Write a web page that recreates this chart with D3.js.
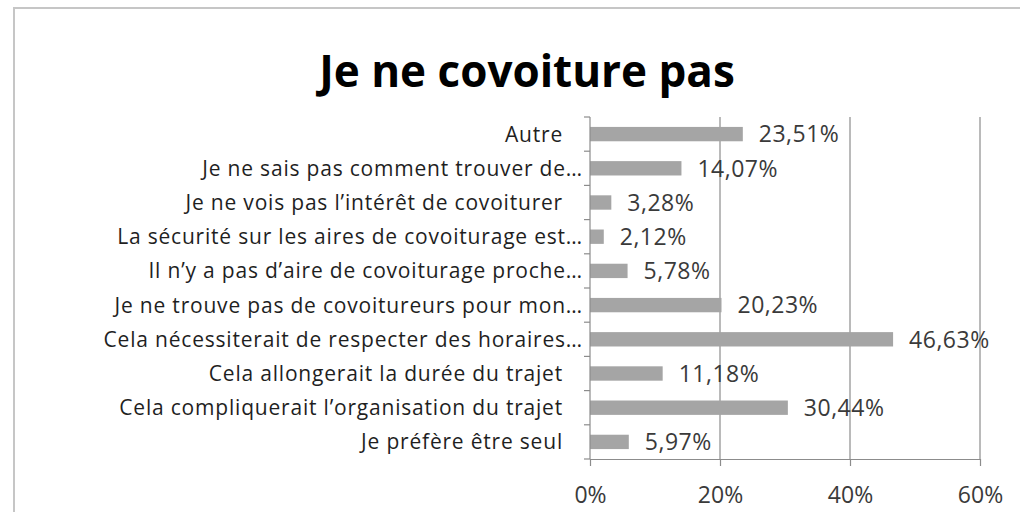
<!DOCTYPE html>
<html>
<head>
<meta charset="utf-8">
<script src="https://cdn.jsdelivr.net/npm/d3@7"></script>
<style>
  body { margin: 0; background: #fff; }
  text { font-family: "Open Sans", sans-serif; }
</style>
</head>
<body>
<svg id="chart" width="1020" height="512"></svg>
<script>
const categories = [
  "Autre",
  "Je ne sais pas comment trouver de…",
  "Je ne vois pas l’intérêt de covoiturer",
  "La sécurité sur les aires de covoiturage est…",
  "Il n’y a pas d’aire de covoiturage proche…",
  "Je ne trouve pas de covoitureurs pour mon…",
  "Cela nécessiterait de respecter des horaires…",
  "Cela allongerait la durée du trajet",
  "Cela compliquerait l’organisation du trajet",
  "Je préfère être seul",
];
const values = [23.51, 14.07, 3.28, 2.12, 5.78, 20.23, 46.63, 11.18, 30.44, 5.97];
const xTicks = [0, 20, 40, 60];
const title = "Je ne covoiture pas";

const width = 1020;
const height = 512;
const marginTop = 117;
const marginBottom = 53;
const marginLeft = 590;
const marginRight = 40;

const svg = d3.select("#chart");

// frame
svg
  .append("rect")
  .attr("x", 14)
  .attr("y", 8)
  .attr("width", width + 20)
  .attr("height", height + 20)
  .attr("fill", "#fff")
  .attr("stroke", "#c6c6c6")
  .attr("stroke-width", 2);

const x = d3
  .scaleLinear()
  .domain([0, 60])
  .range([marginLeft, width - marginRight]);

const y = d3
  .scaleBand()
  .domain(categories)
  .range([marginTop, height - marginBottom])
  .paddingInner(0.58)
  .paddingOuter(0.29);

// vertical grid lines
svg
  .append("g")
  .selectAll("line")
  .data(xTicks.filter((d) => d > 0))
  .join("line")
  .attr("x1", (d) => x(d))
  .attr("x2", (d) => x(d))
  .attr("y1", marginTop)
  .attr("y2", height - marginBottom)
  .attr("stroke", "#8c8c8c")
  .attr("stroke-width", 1.2);

// bars
svg
  .append("g")
  .selectAll("rect")
  .data(values)
  .join("rect")
  .attr("x", x(0))
  .attr("y", (d, i) => y(categories[i]))
  .attr("width", (d) => x(d) - x(0))
  .attr("height", y.bandwidth())
  .attr("fill", "#a5a5a5");

// value labels
svg
  .append("g")
  .selectAll("text")
  .data(values)
  .join("text")
  .attr("x", (d) => x(d) + 16)
  .attr("y", (d, i) => y(categories[i]) + y.bandwidth() / 2)
  .attr("dy", "0.36em")
  .attr("fill", "#3a3a3a")
  .style("font-size", "23px")
  .style("letter-spacing", "0.5px")
  .text((d) => d.toFixed(2).replace(".", ",") + "%");

// y axis: line, boundary ticks, labels
const yAxis = svg.append("g").attr("class", "yAxis");
yAxis
  .append("line")
  .attr("x1", x(0))
  .attr("x2", x(0))
  .attr("y1", marginTop)
  .attr("y2", height - marginBottom)
  .attr("stroke", "#8c8c8c")
  .attr("stroke-width", 1.2);

const step = y.step();
yAxis
  .selectAll(".tick")
  .data(d3.range(categories.length + 1))
  .join("line")
  .attr("class", "tick")
  .attr("x1", x(0) - 6)
  .attr("x2", x(0))
  .attr("y1", (d) => marginTop + d * step)
  .attr("y2", (d) => marginTop + d * step)
  .attr("stroke", "#8c8c8c")
  .attr("stroke-width", 1.2);

yAxis
  .selectAll("text")
  .data(categories)
  .join("text")
  .attr("x", (d) => (d.endsWith("…") ? x(0) - 7 : x(0) - 27))
  .attr("y", (d) => y(d) + y.bandwidth() / 2)
  .attr("dy", "0.36em")
  .attr("text-anchor", "end")
  .attr("fill", "#1f1f1f")
  .style("font-size", "21px")
  .style("letter-spacing", "0.8px")
  .text((d) => d);

// x axis
svg
  .append("g")
  .attr("class", "xAxis")
  .attr("transform", `translate(0,${height - marginBottom})`)
  .call(
    d3
      .axisBottom(x)
      .tickValues(xTicks)
      .tickSize(7)
      .tickSizeOuter(0)
      .tickPadding(21)
      .tickFormat((d) => d + "%"),
  )
  .call((g) => g.select(".domain").attr("stroke", "#8c8c8c").attr("stroke-width", 1.2))
  .call((g) => g.selectAll(".tick line").attr("stroke", "#8c8c8c").attr("stroke-width", 1.2))
  .selectAll("text")
  .attr("fill", "#3a3a3a")
  .style("font-size", "23px")
  .style("font-family", "'Open Sans', sans-serif");

// title
svg
  .append("text")
  .attr("x", 527)
  .attr("y", 87)
  .attr("text-anchor", "middle")
  .attr("fill", "#000")
  .style("font-size", "44px")
  .style("font-weight", "bold")
  .text(title);
</script>
</body>
</html>
